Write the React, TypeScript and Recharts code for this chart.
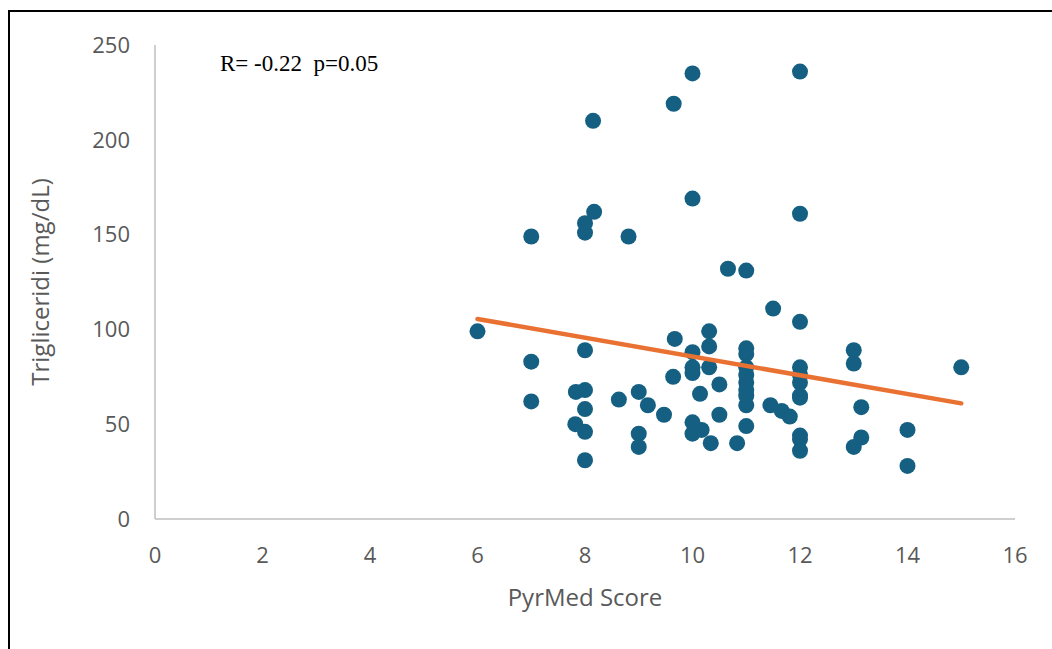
import {
  ScatterChart,
  Scatter,
  XAxis,
  YAxis,
} from "recharts";

// PyrMed score vs trigliceridi (mg/dL)
const pyrmedScore = [
  6, 7, 7, 7, 7.83, 7.82, 8, 8, 8, 8, 8, 8, 8, 8.15, 8.17, 8.63, 8.81,
  9, 9, 9, 9.17, 9.47, 9.65, 9.67, 9.64,
  10, 10, 10, 10, 10, 10, 10, 10.14, 10.17, 10.31, 10.31, 10.31, 10.34,
  10.5, 10.5, 10.66, 10.83,
  11, 11, 11, 11, 11, 11, 11, 11, 11, 11, 11.5, 11.45, 11.66, 11.81,
  12, 12, 12, 12, 12, 12, 12, 12, 12, 12, 12,
  13, 13, 13, 13.14, 13.14, 14, 14, 15,
];
const trigliceridi = [
  99, 149, 83, 62, 67, 50, 156, 151, 89, 68, 58, 46, 31, 210, 162, 63, 149,
  67, 45, 38, 60, 55, 219, 95, 75,
  235, 169, 88, 80, 77, 51, 45, 66, 47, 99, 91, 80, 40,
  71, 55, 132, 40,
  131, 90, 87, 80, 76, 72, 68, 65, 60, 49, 111, 60, 57, 54,
  236, 161, 104, 80, 76, 72, 65, 64, 44, 42, 36,
  89, 82, 38, 59, 43, 47, 28, 80,
];

// linear trendline end points
const trendX = [6, 15];
const trendY = [105.5, 61];

const xTicks = [0, 2, 4, 6, 8, 10, 12, 14, 16];
const yTicks = [0, 50, 100, 150, 200, 250];

const points = pyrmedScore.map((x, i) => ({ x, y: trigliceridi[i] }));
const trend = trendX.map((x, i) => ({ x, y: trendY[i] }));

const DOT = "#156082";
const LINE = "#E97132";
const AXIS = "#bfbfbf";
const TEXT = "#595959";
const FONT = "'Open Sans', sans-serif";

export default function App() {
  return (
    <div
      style={{
        position: "absolute",
        left: 0,
        top: 0,
        width: 1052,
        height: 649,
        overflow: "hidden",
        background: "#fff",
      }}
    >
      {/* cornice del grafico */}
      <div
        style={{
          position: "absolute",
          left: 8,
          top: 10,
          width: 1060,
          height: 660,
          borderTop: "2px solid #000",
          borderLeft: "2px solid #000",
        }}
      />
      <div style={{ position: "absolute", left: 0, top: 0 }}>
        <ScatterChart
          width={1052}
          height={649}
          margin={{ top: 45, right: 37, left: 10, bottom: 30 }}
        >
          <XAxis
            type="number"
            dataKey="x"
            domain={[0, 16]}
            ticks={xTicks}
            interval={0}
            height={100}
            tickLine={false}
            tickSize={0}
            tickMargin={28}
            axisLine={{ stroke: AXIS, strokeWidth: 1.5 }}
            tick={{ fill: TEXT, fontSize: 22, fontFamily: FONT }}
            label={{
              value: "PyrMed Score",
              position: "insideBottom",
              offset: 13,
              fill: TEXT,
              fontSize: 24,
              fontFamily: FONT,
            }}
          />
          <YAxis
            type="number"
            dataKey="y"
            domain={[0, 250]}
            ticks={yTicks}
            interval={0}
            width={145}
            tickLine={false}
            tickSize={0}
            tickMargin={25}
            axisLine={{ stroke: AXIS, strokeWidth: 1.5 }}
            tick={{ fill: TEXT, fontSize: 22, fontFamily: FONT }}
            label={{
              value: "Trigliceridi (mg/dL)",
              angle: -90,
              position: "insideLeft",
              offset: 30,
              fill: TEXT,
              fontSize: 24,
              fontFamily: FONT,
              textAnchor: "middle",
            }}
          />
          <Scatter
            data={points}
            fill={DOT}
            isAnimationActive={false}
            shape={(p: any) => (
              <circle cx={p.cx} cy={p.cy} r={8} fill={DOT} />
            )}
          />
          <Scatter
            data={trend}
            line={{ stroke: LINE, strokeWidth: 4.5, strokeLinecap: "round" }}
            isAnimationActive={false}
            shape={() => <g />}
          />
        </ScatterChart>
      </div>
      <div
        style={{
          position: "absolute",
          left: 220,
          top: 52,
          fontFamily: "'Liberation Serif', serif",
          fontSize: 23,
          color: "#000",
          whiteSpace: "pre",
          lineHeight: 1,
        }}
      >
        {"R= -0.22  p=0.05"}
      </div>
    </div>
  );
}
